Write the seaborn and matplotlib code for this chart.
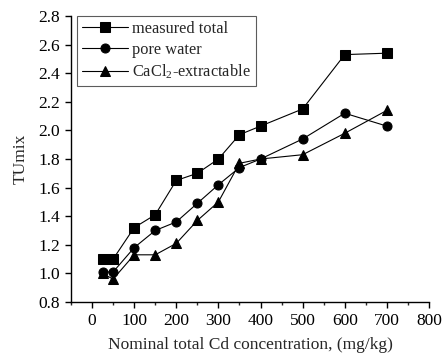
import pandas as pd
import matplotlib.pyplot as plt
import seaborn as sns
from matplotlib.ticker import MultipleLocator

# data
conc = [25, 50, 100, 150, 200, 250, 300, 350, 400, 500, 600, 700]
measured_total = [1.10, 1.10, 1.32, 1.41, 1.65, 1.70, 1.80, 1.97, 2.03, 2.15, 2.53, 2.54]
pore_water = [1.01, 1.01, 1.18, 1.30, 1.36, 1.49, 1.62, 1.74, 1.80, 1.94, 2.12, 2.03]
cacl2 = [1.00, 0.96, 1.13, 1.13, 1.21, 1.37, 1.50, 1.77, 1.80, 1.83, 1.98, 2.14]

labels = ["measured total", "pore water", "CaCl$_2$-extractable"]
df = pd.DataFrame({
    "conc": conc * 3,
    "TUmix": measured_total + pore_water + cacl2,
    "series": [labels[0]] * len(conc) + [labels[1]] * len(conc) + [labels[2]] * len(conc),
})

sns.set_style("ticks")
plt.rcParams["font.family"] = ["Liberation Serif", "DejaVu Serif"]
plt.rcParams["mathtext.fontset"] = "custom"
plt.rcParams["mathtext.rm"] = "Liberation Serif"

fig = plt.figure(figsize=(4.42, 3.54), dpi=100)
ax = fig.add_axes([0.1606, 0.1469, 0.81, 0.8079])

sns.lineplot(data=df, x="conc", y="TUmix", style="series", hue="series",
             palette=["black"] * 3, markers=["s", "o", "^"], dashes=False,
             markersize=6.5, markeredgecolor="black", linewidth=0.8, ax=ax)

ax.set_xlim(-50, 800)
ax.set_ylim(0.8, 2.8)
ax.xaxis.set_major_locator(MultipleLocator(100))
ax.xaxis.set_minor_locator(MultipleLocator(50))
ax.yaxis.set_major_locator(MultipleLocator(0.2))
ax.yaxis.set_major_formatter(plt.FormatStrFormatter("%.1f"))
ax.tick_params(which="major", direction="out", length=4, width=1, labelsize=12.5,
               colors="black", pad=4)
ax.tick_params(which="minor", direction="out", length=2.5, width=1)
for s in ["top", "right"]:
    ax.spines[s].set_visible(False)
for s in ["left", "bottom"]:
    ax.spines[s].set_linewidth(1)
    ax.spines[s].set_color("black")

ax.set_xlabel("Nominal total Cd concentration, (mg/kg)", fontsize=12.5, labelpad=6)
ax.set_ylabel("TUmix", fontsize=12.5, labelpad=7)

leg = ax.legend(loc="upper left", fontsize=11.8, frameon=True, fancybox=False,
                edgecolor="#333333", bbox_to_anchor=(0.016, 1.0), borderaxespad=0,
                handlelength=2.8, labelspacing=0.3, borderpad=0.3, handletextpad=0.3)
leg.get_frame().set_linewidth(0.8)

fig.savefig("out.png", dpi=100)
